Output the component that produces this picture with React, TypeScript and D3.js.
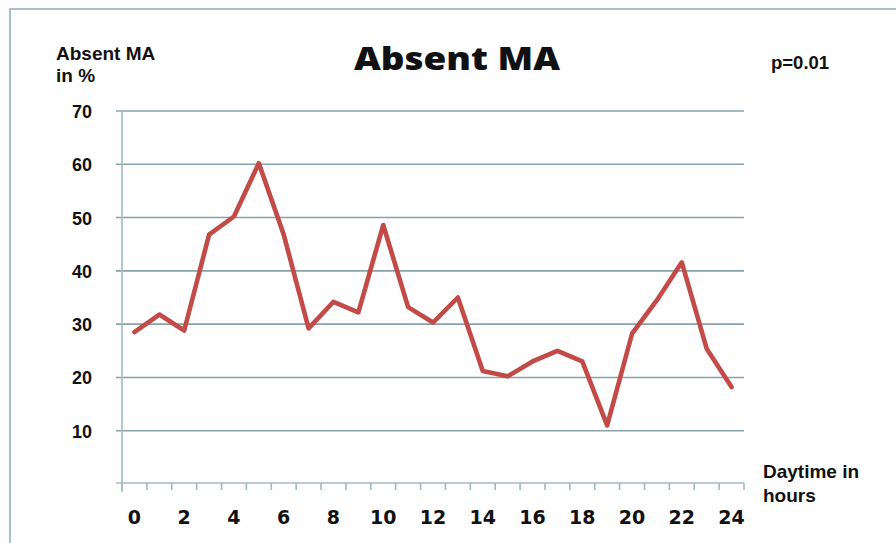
import React from "react";
import * as d3 from "d3";

const hours = d3.range(0, 25);
const absentMA = [28.5, 31.8, 28.8, 46.8, 50.2, 60.2, 46.8, 29.2, 34.2, 32.2, 48.6, 33.2, 30.3, 35.0, 21.2, 20.2, 23.0, 25.0, 23.0, 11.0, 28.2, 34.5, 41.6, 25.4, 18.2];
const yTicks = [10, 20, 30, 40, 50, 60, 70];
const xLabelHours = [0, 2, 4, 6, 8, 10, 12, 14, 16, 18, 20, 22, 24];

const W = 896;
const H = 543;

export default function App() {
  const x = d3.scaleBand<number>().domain(hours).range([122, 744]).padding(0);
  const y = d3.scaleLinear().domain([0, 70]).range([484, 111]);
  const cx = (h: number) => (x(h) as number) + x.bandwidth() / 2;
  const line = d3
    .line<number>()
    .x((_, i) => cx(hours[i]))
    .y((d) => y(d));
  const boundaries = hours.map((h) => x(h) as number).concat([x.range()[1]]);
  const gridColor = "#8aa1aa";
  const axisColor = "#a3bac3";

  return (
    <svg
      width={W}
      height={H}
      style={{ position: "absolute", left: 0, top: 0, background: "#fdfdfd" }}
    >
      <rect x={0} y={0} width={W} height={H} fill="#fdfdfd" />
      <rect x={10} y={9} width={W + 20} height={H + 20} fill="#fefefe" stroke="#abbfc7" strokeWidth={2} />

      {/* gridlines */}
      {yTicks.map((t) => (
        <line key={"g" + t} x1={116} x2={744} y1={y(t)} y2={y(t)} stroke={gridColor} strokeWidth={1.6} />
      ))}
      {/* y axis */}
      <line x1={122} x2={122} y1={y(70)} y2={492} stroke={axisColor} strokeWidth={1.6} />
      {/* x axis */}
      <line x1={116} x2={744} y1={y(0) - 1} y2={y(0) - 1} stroke={axisColor} strokeWidth={1.6} />
      {boundaries.map((b, i) => (
        <line key={"t" + i} x1={b} x2={b} y1={y(0) - 1} y2={490} stroke={axisColor} strokeWidth={1.6} />
      ))}

      {/* y labels */}
      {yTicks.map((t) => (
        <text
          key={"yl" + t}
          x={92}
          y={y(t) + 7}
          textAnchor="end"
          fontFamily="'Liberation Sans', Arial, sans-serif"
          fontWeight="bold"
          fontSize={18}
          fill="#111"
        >
          {t}
        </text>
      ))}

      {/* x labels */}
      {xLabelHours.map((h) => (
        <text
          key={"xl" + h}
          x={cx(h)}
          y={524}
          textAnchor="middle"
          fontFamily="'DejaVu Sans', Verdana, sans-serif"
          fontWeight="bold"
          fontSize={19}
          fill="#111"
        >
          {h}
        </text>
      ))}

      {/* data line */}
      <path
        d={line(absentMA) || ""}
        fill="none"
        stroke="#c24b48"
        strokeWidth={4.6}
        strokeLinejoin="round"
        strokeLinecap="round"
      />

      {/* title */}
      <text
        x={354}
        y={70}
        fontFamily="'Open Sans', sans-serif"
        fontWeight={800}
        fontSize={31}
        textLength={206}
        lengthAdjust="spacingAndGlyphs"
        fill="#111"
      >
        Absent MA
      </text>

      {/* y axis title */}
      <text x={56} y={60} fontFamily="'Liberation Sans', Arial, sans-serif" fontWeight="bold" fontSize={19} fill="#111">
        Absent MA
      </text>
      <text x={56} y={82} fontFamily="'Liberation Sans', Arial, sans-serif" fontWeight="bold" fontSize={19} fill="#111">
        in %
      </text>

      {/* p-value */}
      <text x={771} y={69} fontFamily="'Liberation Sans', Arial, sans-serif" fontWeight="bold" fontSize={18.5} fill="#111">
        p=0.01
      </text>

      {/* x axis title */}
      <text x={763} y={478} fontFamily="'Liberation Sans', Arial, sans-serif" fontWeight="bold" fontSize={19} fill="#111">
        Daytime in
      </text>
      <text x={763} y={502} fontFamily="'Liberation Sans', Arial, sans-serif" fontWeight="bold" fontSize={19} fill="#111">
        hours
      </text>
    </svg>
  );
}
